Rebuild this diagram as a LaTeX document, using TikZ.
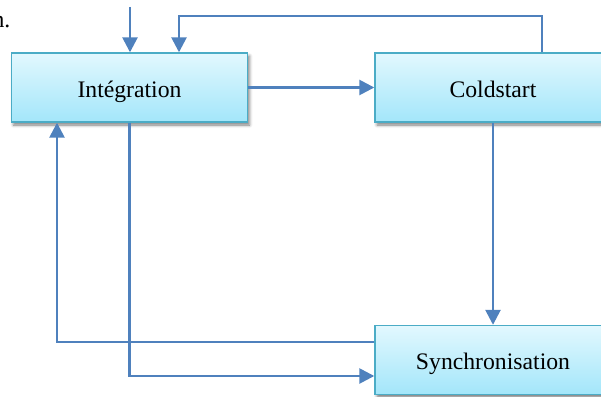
\documentclass[tikz,border=0pt]{standalone}
\usepackage{fontspec}
\setmainfont{Liberation Serif}
\usetikzlibrary{arrows.meta,shadows.blur}
\definecolor{linkblue}{HTML}{4F81BD}
\definecolor{boxedge}{HTML}{4BACC6}
\definecolor{boxtop}{HTML}{E2F8FE}
\definecolor{boxbottom}{HTML}{A3E6FA}
\tikzset{
  stagebox/.style={rectangle, draw=boxedge, line width=1.4pt,
    top color=boxtop, bottom color=boxbottom,
    minimum width=236pt, minimum height=69pt, inner sep=0pt,
    text height=19.6pt, text depth=0pt,
    font=\fontsize{23.7}{28}\selectfont,
    blur shadow={shadow xshift=2pt, shadow yshift=-3pt, shadow blur radius=3pt, shadow opacity=50}},
  link/.style={draw=linkblue, line width=2.6pt,
    -{Triangle[width=15pt,length=15pt]}}
}
\begin{document}
\begin{tikzpicture}[x=1pt,y=-1pt]
  \useasboundingbox (0,0) rectangle (601,396);

  % trailing text
  \node[anchor=base east, inner sep=0pt, font=\fontsize{23.7}{28}\selectfont] (tail) at (10.5,28) {n.};

  % stages
  \node[stagebox] (int)  at (129.5,87.5) {Intégration};
  \node[stagebox] (cold) at (493,87.5)   {Coldstart};
  \node[stagebox] (sync) at (493,360)    {Synchronisation};

  % routing points
  \coordinate (entry) at (130,7);
  \coordinate (fbR) at (542,16);
  \coordinate (fbL) at (179,16);
  \coordinate (retL) at (57,342);
  \coordinate (lowY) at (0,376);

  % connectors
  \draw[link] (entry) -- (int.north -| entry);
  \draw[link] (cold.north -| fbR) -- (fbR) -- (fbL) -- (int.north -| fbL);
  \draw[link] (int.east) -- (cold.west);
  \draw[link] (cold.south) -- (sync.north);
  \draw[link] (int.south) |- (sync.west |- lowY);
  \draw[link] (sync.west |- retL) -- (retL) -- (int.south -| retL);
\end{tikzpicture}
\end{document}
